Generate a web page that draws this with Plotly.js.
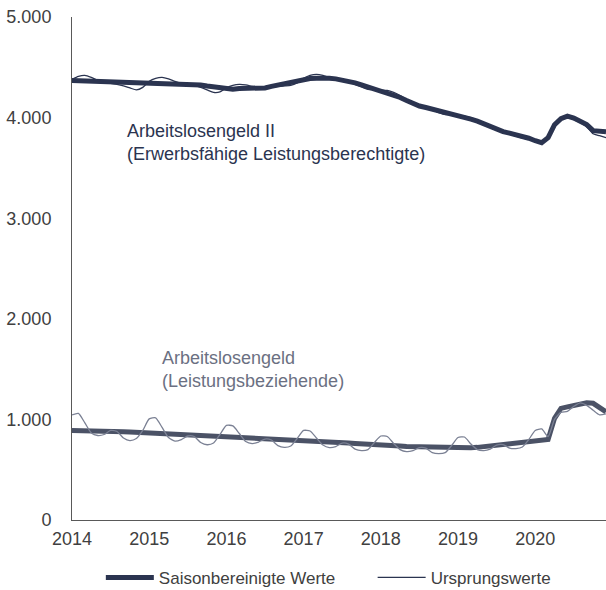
<!DOCTYPE html>
<html>
<head>
<meta charset="utf-8">
<script src="https://cdn.plot.ly/plotly-3.0.1.min.js"></script>
<style>
  html, body { margin: 0; padding: 0; background: #fff; }
  #chart { width: 606px; height: 590px; }
</style>
</head>
<body>
<div id="chart"></div>
<script>
// monthly values Jan 2014 .. Dec 2020 (in thousands of persons, shown as 1.000 etc.)
const months = Array.from({length: 84}, (_, i) => i);
const yearTicks = [0, 12, 24, 36, 48, 60, 72];
const yearLabels = ['2014', '2015', '2016', '2017', '2018', '2019', '2020'];

// Arbeitslosengeld II - seasonally adjusted
const alg2Sa = [
  4370, 4368, 4360, 4355, 4352, 4350, 4348, 4346, 4345, 4344, 4343, 4342,
  4342, 4342, 4342, 4340, 4340, 4338, 4336, 4332, 4325, 4315, 4305, 4295,
  4285, 4283, 4290, 4292, 4290, 4292, 4295, 4310, 4325, 4340, 4355, 4368,
  4380, 4388, 4392, 4394, 4390, 4385, 4375, 4365, 4345, 4325, 4305, 4290,
  4270, 4250, 4225, 4200, 4170, 4140, 4115, 4100, 4085, 4065, 4050, 4035,
  4015, 4000, 3985, 3965, 3940, 3910, 3880, 3860, 3845, 3830, 3815, 3795,
  3770, 3750, 3800, 3930, 3990, 4015, 3995, 3965, 3930, 3870, 3860, 3860
];
// Arbeitslosengeld II - original values
const alg2Orig = [
  4380, 4410, 4420, 4400, 4370, 4350, 4340, 4330, 4315, 4295, 4275, 4300,
  4360, 4390, 4400, 4385, 4360, 4340, 4330, 4320, 4300, 4275, 4250, 4255,
  4295, 4320, 4330, 4325, 4310, 4295, 4290, 4300, 4310, 4315, 4320, 4345,
  4390, 4420, 4430, 4420, 4400, 4385, 4370, 4355, 4330, 4305, 4280, 4280,
  4275, 4270, 4250, 4220, 4180, 4145, 4115, 4095, 4075, 4050, 4030, 4030,
  4020, 4015, 4000, 3975, 3945, 3910, 3880, 3855, 3835, 3815, 3795, 3790,
  3775, 3760, 3810, 3940, 3995, 4005, 3980, 3950, 3910, 3840, 3820, 3800
];
// Arbeitslosengeld - seasonally adjusted
const algSa = [
  890, 890, 888, 885, 882, 880, 880, 878, 878, 875, 872, 870,
  868, 865, 862, 858, 855, 852, 850, 848, 845, 842, 838, 835,
  832, 828, 825, 820, 818, 815, 812, 808, 805, 802, 798, 795,
  792, 790, 788, 785, 780, 775, 770, 765, 760, 758, 755, 752,
  748, 745, 740, 735, 730, 728, 725, 722, 720, 718, 716, 715,
  712, 715, 718, 722, 728, 735, 745, 755, 762, 768, 772, 778,
  785, 790, 800, 1010, 1110, 1125, 1135, 1150, 1165, 1160, 1115, 1075
];
// Arbeitslosengeld - original values
const algOrig = [
  1045, 1060, 965, 865, 840, 850, 890, 880, 815, 790, 810, 890,
  1005, 1015, 920, 820, 785, 800, 835, 830, 770, 748, 765, 850,
  940, 935, 860, 780, 760, 775, 805, 795, 740, 722, 735, 810,
  890, 885, 815, 745, 720, 730, 765, 755, 705, 690, 700, 770,
  835, 830, 760, 700, 680, 690, 720, 715, 670, 660, 670, 740,
  820, 825, 755, 700, 690, 705, 745, 750, 715, 710, 725, 800,
  890, 905, 830, 1000, 1070, 1080, 1130, 1165, 1140, 1090, 1045, 1055
];

const navy = '#2b3450';
const grey = '#4b5266';
const greyLight = '#7b8194';
const fontFam = 'Liberation Sans, Arial, sans-serif';

const traces = [
  { x: months, y: algSa, type: 'scatter', mode: 'lines', showlegend: false,
    line: { color: grey, width: 5 }, hoverinfo: 'skip' },
  { x: months, y: algOrig, type: 'scatter', mode: 'lines', showlegend: false,
    line: { color: greyLight, width: 1.3, shape: 'spline', smoothing: 0.6 }, hoverinfo: 'skip' },
  { x: months, y: alg2Sa, type: 'scatter', mode: 'lines', name: 'Saisonbereinigte Werte',
    legend: 'legend', line: { color: navy, width: 5 } },
  { x: months, y: alg2Orig, type: 'scatter', mode: 'lines', name: 'Ursprungswerte',
    legend: 'legend2', line: { color: navy, width: 1.3, shape: 'spline', smoothing: 0.6 } }
];

const legendBase = {
  orientation: 'h',
  xanchor: 'left',
  y: -0.115,
  yanchor: 'middle',
  font: { size: 17, color: '#404040' },
  itemwidth: 48
};

const layout = {
  width: 606,
  height: 590,
  margin: { l: 72, r: 0, t: 17, b: 70, autoexpand: false },
  paper_bgcolor: '#fff',
  plot_bgcolor: '#fff',
  separators: ',.',
  font: { family: fontFam, size: 17, color: '#404040' },
  xaxis: {
    range: [0, 83],
    tickvals: yearTicks,
    ticktext: yearLabels,
    showgrid: false,
    zeroline: false,
    showline: true,
    linecolor: '#595959',
    linewidth: 1,
    ticks: '',
    ticklabelstandoff: 2,
    tickfont: { size: 18, color: '#404040' },
    fixedrange: true
  },
  yaxis: {
    range: [0, 5000],
    tickvals: [0, 1000, 2000, 3000, 4000, 5000],
    tickformat: ',d',
    showgrid: false,
    zeroline: false,
    showline: true,
    linecolor: '#595959',
    linewidth: 1,
    ticks: '',
    ticklabelstandoff: 16,
    tickfont: { size: 18, color: '#404040' },
    fixedrange: true
  },
  showlegend: true,
  legend: Object.assign({}, legendBase, { x: 0.054 }),
  legend2: Object.assign({}, legendBase, { x: 0.563 }),
  annotations: [
    { x: 8.2, y: 3990, xref: 'x', yref: 'y', xanchor: 'left', yanchor: 'top',
      align: 'left', showarrow: false,
      text: 'Arbeitslosengeld II<br>(Erwerbsfähige Leistungsberechtigte)',
      font: { size: 18, color: navy } },
    { x: 13.7, y: 1730, xref: 'x', yref: 'y', xanchor: 'left', yanchor: 'top',
      align: 'left', showarrow: false,
      text: 'Arbeitslosengeld<br>(Leistungsbeziehende)',
      font: { size: 18, color: '#6b7082' } }
  ]
};

Plotly.newPlot('chart', traces, layout, { displayModeBar: false, staticPlot: true });
</script>
</body>
</html>
